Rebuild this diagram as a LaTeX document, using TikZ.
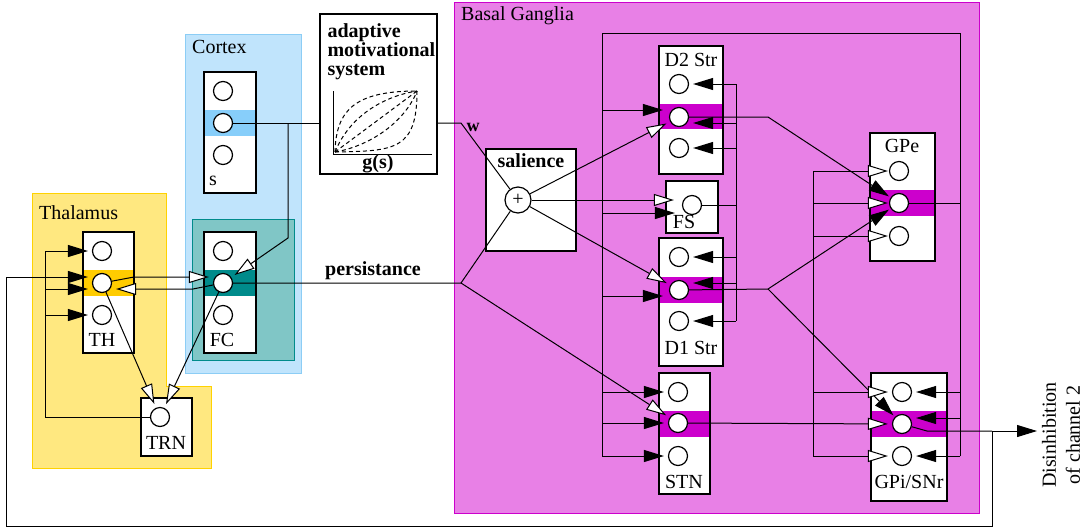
\documentclass[tikz,border=0pt]{standalone}
\usepackage{fontspec}
\setmainfont{Liberation Serif}
\usetikzlibrary{arrows.meta,fit}

\definecolor{thalfill}{RGB}{255,232,128}
\definecolor{thaledge}{RGB}{255,210,0}
\definecolor{ctxfill}{RGB}{192,228,252}
\definecolor{ctxedge}{RGB}{140,205,245}
\definecolor{fcfill}{RGB}{128,198,198}
\definecolor{fcedge}{RGB}{0,139,139}
\definecolor{bgfill}{RGB}{232,128,230}
\definecolor{bgedge}{RGB}{204,0,204}
\definecolor{thband}{RGB}{255,204,0}
\definecolor{sband}{RGB}{135,206,250}
\definecolor{fcband}{RGB}{0,139,139}
\definecolor{bgband}{RGB}{204,0,204}

\begin{document}
\begin{tikzpicture}[x=0.5pt,y=-0.5pt,line width=0.5pt,
unit/.style={
% white box of one nucleus
rectangle,
draw=black,
line width=0.8pt,
fill=white,
inner sep=0pt,
fit={#1}
},
band/.style={rectangle,draw=none,fill=#1,inner sep=0pt},
region/.style={rectangle,inner sep=0pt,line width=0.5pt},
neuron/.style={
circle,draw=black,fill=white,
minimum size=9.5pt,inner sep=0pt,line width=0.6pt
},
exc/.style={-{Triangle[length=10pt,width=6pt,fill=white]},shorten >=2pt},
inh/.style={-{Triangle[length=10pt,width=6pt]},shorten >=2pt},
curve/.style={dash pattern=on 2pt off 1.5pt}
]
\useasboundingbox (0,0) rectangle (1086,531);

% areas
\filldraw[fill=thalfill,draw=thaledge] (32,193) -- (166,193) -- (166,386) -- (211,386) -- (211,468) -- (32,468) -- cycle;
\node (thallab) [anchor=west] at (32,213) {Thalamus};
\node (cortex) [region,fill=ctxfill,draw=ctxedge,fit={(185,34) (301,373)}] {};
\node (ctxlab) [anchor=west] at (185,47) {Cortex};
\node (fcarea) [region,fill=fcfill,draw=fcedge,fit={(192,219) (294,360)}] {};
\node (bg) [region,fill=bgfill,draw=bgedge,fit={(454,2) (979,513)}] {};
\node (bglab) [anchor=west] at (454,16) {Basal Ganglia};

% thalamus
\node (th) [unit={(83,232) (134,353)}] {};
\node (thb) [band=thband,fit={(84,270) (133,296)}] {};
\node (th1) [neuron] at (102,251) {};
\node (th2) [neuron] at (102,283) {};
\node (th3) [neuron] at (102,315) {};
\node (thlab) at (102,340) {TH};
\node (trn) [unit={(141,398) (192,456)}] {};
\node (trnc) [neuron] at (160,417) {};
\node (trnlab) at (166,443) {TRN};

% cortex
\node (sbox) [unit={(204,72) (256,193)}] {};
\node (sb) [band=sband,fit={(205,110) (255,136)}] {};
\node (s1) [neuron] at (223,91) {};
\node (s2) [neuron] at (223,123) {};
\node (s3) [neuron] at (223,155) {};
\node (slab) at (213,181) {s};
\node (fc) [unit={(204,232) (256,353)}] {};
\node (fcb) [band=fcband,fit={(205,270) (255,296)}] {};
\node (fc1) [neuron] at (223,251) {};
\node (fc2) [neuron] at (223,283) {};
\node (fc3) [neuron] at (223,315) {};
\node (fclab) at (222,340) {FC};

% adaptive motivational system
\node (ams) [unit={(320,14) (437,174)}] {};
\node (amslab) [anchor=north west,align=left,inner sep=0pt,font={\fontsize{10pt}{9.5pt}\selectfont\bfseries}] at (327,23) {adaptive\\motivational\\system};
\draw (333,91) -- (333,154) -- (432,154);
\draw[curve] (335,152) .. controls (336,110) and (355,91) .. (417,91);
\draw[curve] (335,152) .. controls (350,115) and (385,96) .. (417,91);
\draw[curve] (335,152) -- (417,91);
\draw[curve] (335,152) .. controls (370,146) and (405,122) .. (417,91);
\draw[curve] (335,152) .. controls (395,151) and (417,150) .. (417,91);
\node (gslab) [font=\bfseries] at (378,164) {g(s)};

% basal ganglia nuclei
\node (sal) [unit={(486,149) (576,251)}] {};
\node (sallab) [font=\bfseries] at (531,161) {salience};
\node (salc) [neuron,minimum size=13pt] at (518,200) {+};

\node (d2) [unit={(659,46) (723,174)}] {};
\node (d2band) [band=bgband,fit={(660,104) (722,129)}] {};
\node (d2a) [neuron] at (679,84) {};
\node (d2b) [neuron] at (679,117) {};
\node (d2c) [neuron] at (679,148) {};
\node (d2lab) at (691,60) {D2 Str};

\node (fs) [unit={(666,181) (718,233)}] {};
\node (fsc) [neuron] at (692,205) {};
\node (fslab) at (684,222) {FS};

\node (d1) [unit={(659,238) (723,366)}] {};
\node (d1band) [band=bgband,fit={(660,277) (722,303)}] {};
\node (d1a) [neuron] at (679,257) {};
\node (d1b) [neuron] at (679,290) {};
\node (d1c) [neuron] at (679,321) {};
\node (d1lab) at (691,348) {D1 Str};

\node (stn) [unit={(659,373) (710,494)}] {};
\node (stnband) [band=bgband,fit={(660,411) (709,437)}] {};
\node (stna) [neuron] at (678,392) {};
\node (stnb) [neuron] at (678,423) {};
\node (stnc) [neuron] at (678,456) {};
\node (stnlab) at (684,482) {STN};

\node (gpe) [unit={(870,133) (935,261)}] {};
\node (gpeband) [band=bgband,fit={(871,190) (934,216)}] {};
\node (gpea) [neuron] at (899,171) {};
\node (gpeb) [neuron] at (899,203) {};
\node (gpec) [neuron] at (899,236) {};
\node (gpelab) at (902,146) {GPe};

\node (gpi) [unit={(871,373) (947,501)}] {};
\node (gpiband) [band=bgband,fit={(872,411) (946,437)}] {};
\node (gpia) [neuron] at (902,392) {};
\node (gpib) [neuron] at (902,424) {};
\node (gpic) [neuron] at (902,456) {};
\node (gpilab) at (909,482) {GPi/SNr};

% cortex <-> thalamus
\coordinate (sfork) at (288,123);
\coordinate (sbend) at (288,238);
\draw (s2) -- (s2 -| ams.west);
\draw[exc] (sfork) -- (sbend) -- (fc2);
\coordinate (thup) at (134,277);
\draw[exc] (th2) -- (thup) -- (thup -| fc2.west);
\coordinate (fcdown) at (193,289);
\draw[exc] (fc2) -- (fcdown) -- (fcdown -| th2.east);
\path (th2) edge[exc] (trnc) (fc2) edge[exc] (trnc);
\coordinate (trnleft) at (45,417);
\coordinate (trnmid) at (45,289);
\draw (trnc) -- (trnleft) -- (trnleft |- th1);
\draw[inh] (trnleft |- th1) -- (th1);
\draw[inh] (trnmid) -- (trnmid -| th2.west);
\draw[inh] (trnleft |- th3) -- (th3);

% w and persistance into salience
\coordinate (wfork) at (461,123);
\draw (s2 -| ams.east) -- (wfork) -- (salc);
\node (wlab) [font=\bfseries\small] at (473,127) {w};
\coordinate (pfork) at (461,283);
\draw (fc2) -- (pfork) -- (salc);
\node (perslab) [font=\bfseries] at (373,271) {persistance};
\draw[exc] (pfork) -- (stnb);

% salience to striatum
\path (salc) edge[exc] (d2b) (salc) edge[exc] (d1b);
\draw[exc,shorten >=4pt] (salc) -- (salc -| fsc.west);

% GPe feedback loop
\coordinate (loopr) at (960,33);
\coordinate (loopl) at (602,33);
\draw (gpeb) -- (gpeb -| loopr);
\draw (loopr |- gpic) -- (loopr) -- (loopl) -- (loopl |- stnc);
\coordinate (fbd2) at (602,110);
\coordinate (fbfs) at (602,213);
\coordinate (fbd1) at (602,296);
\draw[inh,shorten >=3pt] (fbd2) -- (fbd2 -| d2b.west);
\draw[inh,shorten >=3.5pt] (fbfs) -- (fbfs -| fsc.west);
\draw[inh,shorten >=3pt] (fbd1) -- (fbd1 -| d1b.west);
\draw[inh] (loopl |- stna) -- (stna);
\draw[inh] (loopl |- stnb) -- (stnb);
\draw[inh] (loopl |- stnc) -- (stnc);
\coordinate (fbgpi) at (960,418);
\draw[inh] (loopr |- gpia) -- (gpia);
\draw[inh] (fbgpi) -- (fbgpi -| gpib.east);
\draw[inh] (loopr |- gpic) -- (gpic);

% FS lateral inhibition
\coordinate (fsr) at (736,205);
\draw (fsc) -- (fsr);
\draw (fsr |- d2a) -- (fsr |- d1c);
\coordinate (fsd2) at (736,123);
\coordinate (fsd1) at (736,283);
\draw[inh] (fsr |- d2a) -- (d2a);
\draw[inh] (fsd2) -- (fsd2 -| d2b.east);
\draw[inh] (fsr |- d2c) -- (d2c);
\draw[inh] (fsr |- d1a) -- (d1a);
\draw[inh] (fsd1) -- (fsd1 -| d1b.east);
\draw[inh] (fsr |- d1c) -- (d1c);

% striatum to pallidum
\coordinate (d2r) at (768,117);
\draw[inh,shorten >=1pt] (d2b) -- (d2r) -- (gpeb);
\coordinate (d1r) at (768,289);
\draw (d1b) -- (d1r);
\path (d1r) edge[inh,shorten >=1pt] (gpeb) (d1r) edge[inh,shorten >=1pt] (gpib);

% STN diffuse excitation
\coordinate (stnv) at (813,423);
\draw[exc] (stnb) -- (gpib);
\draw (stnv |- gpea) -- (stnv |- gpic);
\draw[exc,shorten >=0.5pt] (stnv |- gpea) -- (gpea);
\draw[exc,shorten >=0.5pt] (stnv |- gpeb) -- (gpeb);
\draw[exc,shorten >=0.5pt] (stnv |- gpec) -- (gpec);
\draw[exc] (stnv |- gpia) -- (gpia);
\draw[exc] (stnv |- gpic) -- (gpic);

% output and return to thalamus
\coordinate (gpiout) at (927,431);
\coordinate (outfork) at (992,431);
\coordinate (outend) at (1037,431);
\draw (gpib) -- (gpiout) -- (outfork);
\draw[inh,shorten >=0pt] (outfork) -- (outend);
\node (dislab) [rotate=90,align=center] at (1061,435) {Disinhibition\\of channel 2};
\coordinate (loopbr) at (992,526);
\coordinate (loopbl) at (6,526);
\coordinate (looptl) at (6,277);
\draw[inh] (outfork) -- (loopbr) -- (loopbl) -- (looptl) -- (looptl -| th2.west);
\end{tikzpicture}
\end{document}
